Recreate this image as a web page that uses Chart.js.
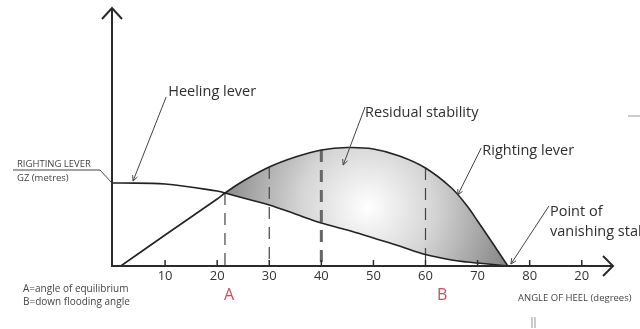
<!DOCTYPE html>
<html>
<head>
<meta charset="utf-8">
<script src="https://cdn.jsdelivr.net/npm/chart.js@4"></script>
<style>
html, body { margin: 0; padding: 0; background: #fff; }
canvas { display: block; }
</style>
</head>
<body>
<canvas id="graph" width="640" height="329"></canvas>
<script>
// angle of heel (degrees), shared by both curves
const angles = [0, 1.5, 10, 20, 21.5, 25, 30, 35, 40, 45, 50, 55, 60, 65, 68, 70, 73, 75.8]
// GZ values (righting curve starts at 1.5 deg)
const righting = [null, 0, 0.31, 0.67, 0.73, 0.85, 0.99, 1.09, 1.16, 1.185, 1.17, 1.1, 0.98, 0.78, 0.6, 0.45, 0.22, 0]
const heeling = [0.83, 0.83, 0.82, 0.75, 0.73, 0.68, 0.61, 0.52, 0.43, 0.36, 0.28, 0.2, 0.115, 0.06, 0.04, 0.03, 0.015, 0]
// dashed verticals
const markAngles = [21.5, 30, 40, 60]
const tickValues = [10, 20, 30, 40, 50, 60, 70, 80, 90]
const tickLabels = ['10', '20', '30', '40', '50', '60', '70', '80', '20']

const pts = (ys) => angles.map((a, i) => ({x: a, y: ys[i]}))

function shade(context) {
    const chart = context.chart
    if (!chart.chartArea) return '#bbb'
    const cx = chart.scales.x.getPixelForValue(48.8)
    const cy = chart.scales.y.getPixelForValue(0.59)
    const g = chart.ctx.createRadialGradient(cx, cy, 0, cx, cy, 150)
    g.addColorStop(0, '#ffffff')
    g.addColorStop(0.45, '#d4d4d4')
    g.addColorStop(1, '#858585')
    return g
}

const markSets = markAngles.map((a) => ({
    data: [{x: a, y: righting[angles.indexOf(a)]}, {x: a, y: 0}],
    borderColor: a === 40 ? '#666' : '#444',
    borderWidth: a === 40 ? 3 : 1.2,
    borderDash: [12, 8],
    pointRadius: 0,
    fill: false,
}))

function leader(ctx, x, y, a) {
    const x1 = x.getPixelForValue(a[0]), y1 = y.getPixelForValue(a[1])
    const x2 = x.getPixelForValue(a[2]), y2 = y.getPixelForValue(a[3])
    ctx.beginPath()
    ctx.moveTo(x1, y1)
    ctx.lineTo(x2, y2)
    const ang = Math.atan2(y2 - y1, x2 - x1)
    ctx.moveTo(x2 - 6 * Math.cos(ang - 0.45), y2 - 6 * Math.sin(ang - 0.45))
    ctx.lineTo(x2, y2)
    ctx.lineTo(x2 - 6 * Math.cos(ang + 0.45), y2 - 6 * Math.sin(ang + 0.45))
    ctx.stroke()
}

const decor = {
    id: 'decor',
    afterDraw(chart) {
        const {ctx, scales: {x, y}} = chart
        const x0 = x.getPixelForValue(0) - 1
        const y0 = y.getPixelForValue(0)
        const xEnd = x.getPixelForValue(x.max)
        const yTop = y.getPixelForValue(y.max) + 2
        ctx.save()
        ctx.strokeStyle = '#2a2a2a'
        ctx.lineWidth = 2
        ctx.beginPath()
        ctx.moveTo(x0, yTop)
        ctx.lineTo(x0, y0)
        ctx.lineTo(xEnd, y0)
        ctx.moveTo(x0 - 10, yTop + 11)
        ctx.lineTo(x0, yTop)
        ctx.lineTo(x0 + 10, yTop + 11)
        ctx.moveTo(xEnd - 10, y0 - 10)
        ctx.lineTo(xEnd, y0)
        ctx.lineTo(xEnd - 10, y0 + 10)
        ctx.stroke()

        // ticks and labels
        ctx.lineWidth = 1.5
        ctx.fillStyle = '#333'
        ctx.font = '13px "Open Sans"'
        ctx.textAlign = 'center'
        ctx.textBaseline = 'middle'
        tickValues.forEach((v, i) => {
            const px = x.getPixelForValue(v)
            ctx.beginPath()
            ctx.moveTo(px, y0)
            ctx.lineTo(px, y0 - 6)
            ctx.stroke()
            ctx.fillText(tickLabels[i], px, y0 + 10)
        })

        ctx.fillStyle = '#d9485a'
        ctx.font = '16px "Open Sans"'
        ctx.fillText('A', x.getPixelForValue(22.3), y0 + 29)
        ctx.fillText('B', x.getPixelForValue(63.2), y0 + 29)

        // leaders with labels
        ctx.strokeStyle = '#444'
        ctx.lineWidth = 1
        leader(ctx, x, y, [10.2, 1.69, 3.85, 0.85])
        leader(ctx, x, y, [48.4, 1.59, 44.2, 1.01])
        leader(ctx, x, y, [70.7, 1.18, 66.2, 0.71])
        leader(ctx, x, y, [83.7, 0.6, 76.4, 0.02])
        ctx.fillStyle = '#2e2e2e'
        ctx.font = '14.5px "Open Sans"'
        ctx.textAlign = 'left'
        ctx.fillText('Heeling lever', x.getPixelForValue(10.6), y.getPixelForValue(1.74))
        ctx.fillText('Residual stability', x.getPixelForValue(48.4), y.getPixelForValue(1.53))
        ctx.fillText('Righting lever', x.getPixelForValue(70.9), y.getPixelForValue(1.15))
        ctx.fillText('Point of', x.getPixelForValue(83.9), y.getPixelForValue(0.54))
        ctx.fillText('vanishing stability', x.getPixelForValue(83.9), y.getPixelForValue(0.34))

        // y axis title with its leader
        ctx.font = '9.5px "Open Sans"'
        ctx.fillStyle = '#444'
        ctx.fillText('RIGHTING LEVER', 17, 164)
        ctx.fillText('GZ (metres)', 17, 178)
        ctx.beginPath()
        ctx.moveTo(13, 170)
        ctx.lineTo(100, 170)
        ctx.lineTo(x0 - 1, 182)
        ctx.stroke()

        ctx.font = '10px "Open Sans"'
        ctx.fillText('A=angle of equilibrium', 23, 289)
        ctx.fillText('B=down flooding angle', 23, 302)
        ctx.font = '9.5px "Open Sans"'
        ctx.fillText('ANGLE OF HEEL (degrees)', 518, 298)

        // stray marks
        ctx.strokeStyle = '#999'
        ctx.beginPath()
        ctx.moveTo(628, 116)
        ctx.lineTo(640, 116)
        ctx.moveTo(532, 317)
        ctx.lineTo(532, 328)
        ctx.moveTo(535, 317)
        ctx.lineTo(535, 328)
        ctx.stroke()
        ctx.restore()
    }
}

new Chart(document.getElementById('graph'), {
    type: 'line',
    data: {
        datasets: [
            {
                label: 'Righting lever',
                data: pts(righting),
                borderColor: '#222',
                borderWidth: 1.6,
                backgroundColor: shade,
                fill: {target: 1, below: 'rgba(0,0,0,0)'},
                pointRadius: 0,
                tension: 0.35,
            },
            {
                label: 'Heeling lever',
                data: pts(heeling),
                borderColor: '#222',
                borderWidth: 1.6,
                pointRadius: 0,
                fill: false,
                tension: 0.35,
            },
            ...markSets
        ]
    },
    options: {
        responsive: false,
        animation: false,
        layout: {padding: {left: 113, right: 27, top: 6, bottom: 63}},
        scales: {
            x: {type: 'linear', min: 0, max: 96, display: false},
            y: {min: 0, max: 2.6, display: false}
        },
        plugins: {
            legend: {display: false},
            tooltip: {enabled: false},
            filler: {drawTime: 'beforeDatasetsDraw'}
        }
    },
    plugins: [decor]
})
</script>
</body>
</html>
